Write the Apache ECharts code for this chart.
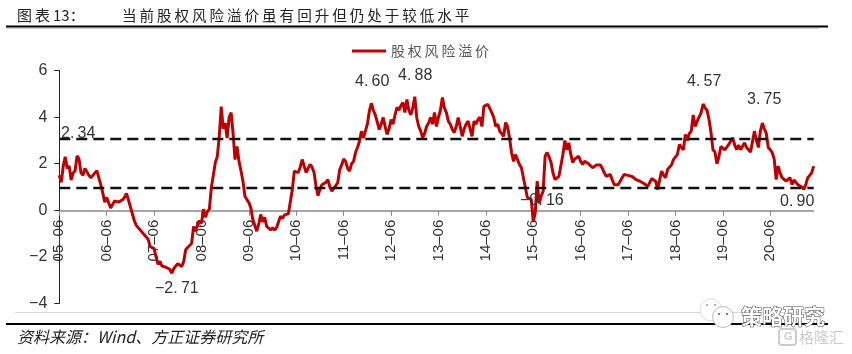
<!DOCTYPE html>
<html>
<head>
<meta charset="utf-8">
<title>股权风险溢价</title>
<script src="https://cdn.jsdelivr.net/npm/echarts@6/dist/echarts.min.js"></script>
<style>
  html, body { margin: 0; padding: 0; background: #fff; }
  #main { width: 852px; height: 354px; }
</style>
</head>
<body>
<div id="main"></div>
<script>
// 半月度数据，自 05-06 起，每行一年
var premium = [
  1.5,1.2,1.9,2.3,1.8,1.9,1.3,1.6,1.7,2.34,2.2,1.6,1.5,1.8,1.75,1.5,1.4,1.5,1.55,1.7,1.4,1.1,0.75,0.35,
  0.55,0.5,0.1,0.03,0.4,0.42,0.35,0.33,0.45,0.55,0.72,0.45,0.15,-0.15,-0.45,-0.65,-0.75,-0.7,-0.95,-1.05,-1.1,-1.25,-1.56,-1.6,
  -1.65,-2.0,-2.33,-2.2,-2.4,-2.33,-2.45,-2.5,-2.55,-2.71,-2.5,-2.4,-2.3,-2.25,-2.42,-2.2,-1.7,-1.6,-1.65,-1.43,-0.7,-0.9,-0.63,-0.45,
  -0.56,0.05,-0.3,-0.05,0.05,0.98,1.5,2.05,2.3,3.17,4.46,3.5,3.75,3.1,4.0,4.2,3.3,2.18,2.74,2.1,1.7,1.25,0.6,0.46,
  0.33,0.1,-0.4,-0.4,-0.9,-0.6,-0.18,-0.5,-0.3,-0.69,-0.7,-0.85,-0.75,-0.85,-0.75,-0.8,-0.26,-0.35,-0.2,-0.2,-0.15,-0.1,0.89,1.68,
  1.7,1.62,1.85,2.18,1.9,1.62,1.8,1.97,1.85,1.62,1.03,0.63,0.9,1.1,1.15,1.2,1.32,1.0,0.82,0.95,1.05,1.19,1.75,1.95,
  2.2,2.1,1.8,1.68,2.0,2.1,2.48,2.7,2.97,3.4,3.1,3.04,3.7,4.26,4.6,4.3,4.1,3.8,3.47,3.7,3.99,3.6,3.26,3.5,
  3.9,3.7,4.1,4.42,4.3,4.5,4.63,4.2,4.76,4.3,4.1,4.4,4.88,3.99,3.6,3.4,3.12,3.3,3.6,3.75,3.99,3.7,4.2,3.6,
  4.0,4.3,4.85,4.4,4.2,3.83,3.7,3.47,3.34,3.6,3.99,3.6,3.18,3.5,3.7,3.83,3.5,3.18,3.83,3.7,3.9,4.0,3.6,4.47,
  4.5,4.55,4.5,4.2,3.99,3.6,3.7,3.4,3.3,3.18,3.77,3.6,3.1,2.48,2.1,2.4,2.4,1.97,1.83,1.4,0.98,0.55,0.6,0.46,
  -0.5,-0.1,1.25,0.3,0.6,0.82,2.32,2.48,2.3,2.05,1.6,1.32,1.3,1.46,1.5,2.4,3.0,2.6,2.9,2.4,2.05,2.2,2.15,2.32,
  2.1,1.97,2.1,2.05,2.0,2.05,1.83,1.9,1.95,1.97,1.95,1.8,1.6,1.46,1.5,1.54,1.3,1.1,1.12,1.1,1.25,1.4,1.54,1.55,
  1.5,1.54,1.45,1.4,1.32,1.3,1.25,1.2,1.15,1.1,1.03,1.2,1.36,1.3,1.25,0.89,1.3,1.68,1.5,1.4,1.75,1.7,1.95,2.18,
  2.1,2.4,2.83,2.7,2.6,3.26,3.0,3.3,3.4,4.1,3.6,3.83,3.9,4.2,4.57,4.4,4.3,3.9,3.34,2.6,2.5,2.0,2.3,2.74,
  2.7,2.6,2.54,2.83,2.8,3.12,2.8,2.6,2.8,2.6,2.65,2.9,2.7,2.6,2.5,2.48,3.4,3.0,2.7,3.4,3.75,3.5,3.3,2.7,
  2.6,2.48,2.2,1.32,1.9,1.6,1.4,1.45,1.25,1.3,1.4,1.1,1.3,1.25,1.1,1.05,1.0,0.9,1.1,1.4,1.5,1.62,1.9
];
var upperLine = 3.08;
var lowerLine = 0.98;
var yTicks = [-4, -2, 0, 2, 4, 6];

// x轴类目：每月两个点
var categories = [];
for (var i = 0; i < premium.length; i++) {
  var m = 5 + Math.floor(i / 2);
  var yy = 5 + Math.floor(m / 12);
  var mm = m % 12 + 1;
  categories.push((yy < 10 ? '0' : '') + yy + '–' + (mm < 10 ? '0' : '') + mm);
}

var cjk = '"Noto Sans CJK SC"';
var latin = '"Liberation Sans", Arial';

// 字距
function spaced(s) {
  return s.split('').join('\u2009');
}

function note(text, x, y) {
  return {
    type: 'text', x: x, y: y, z: 20,
    style: {
      text: text.replace('.', '.\u2009').replace('-', '−'),
      font: '16px ' + latin, fill: '#333',
      textAlign: 'left', textVerticalAlign: 'middle'
    }
  };
}

function rule(x1, x2, y, color, width) {
  return {
    type: 'line', z: 1,
    shape: { x1: x1, y1: y, x2: x2, y2: y },
    style: { stroke: color, lineWidth: width }
  };
}

var myChart = echarts.init(document.getElementById('main'), null, { renderer: 'canvas' });

var option = {
  animation: false,
  backgroundColor: '#fff',
  grid: { left: 59.3, right: 38.3, top: 70.7, height: 232.6, containLabel: false, outerBoundsMode: 'none' },
  legend: {
    left: 347, top: 39,
    icon: 'rect',
    itemWidth: 34, itemHeight: 3, itemGap: 1,
    data: ['股权风险溢价'],
    formatter: function (n) { return spaced(n); },
    textStyle: { fontFamily: cjk, fontSize: 14, color: '#555' }
  },
  xAxis: {
    type: 'category',
    boundaryGap: false,
    data: categories,
    // 轴线画在0值处，标签跟随
    offset: -92.6,
    axisLine: { onZero: false, lineStyle: { color: '#888', width: 1.5 } },
    axisTick: { alignWithLabel: true, interval: 23, length: 5, lineStyle: { color: '#888' } },
    axisLabel: {
      interval: 23, rotate: 90, margin: 9,
      fontFamily: latin, fontSize: 15, color: '#333'
    }
  },
  yAxis: {
    type: 'value',
    min: yTicks[0], max: yTicks[yTicks.length - 1], interval: 2,
    splitLine: { show: false },
    axisLine: { show: true, onZero: false, lineStyle: { color: '#222', width: 1 } },
    axisTick: { show: true, length: 5, lineStyle: { color: '#222' } },
    axisLabel: {
      margin: 12, padding: [3, 0, 0, 0], fontFamily: latin, fontSize: 16, color: '#333',
      formatter: function (v) { return String(v).replace('-', '−'); }
    }
  },
  series: [{
    name: '股权风险溢价',
    type: 'line',
    data: premium,
    showSymbol: false,
    symbol: 'none',
    sampling: false,
    lineStyle: { color: '#c00000', width: 3 },
    itemStyle: { color: '#c00000' },
    markLine: {
      silent: true,
      symbol: 'none',
      label: { show: false },
      lineStyle: { color: '#111', width: 2.4, type: [11, 6] },
      data: [{ yAxis: upperLine }, { yAxis: lowerLine }]
    }
  }],
  graphic: [
    // 标题与版式线
    {
      type: 'text', x: 17, y: 15,
      style: { text: '图\u2009表\u200913：', font: '15px ' + cjk, fill: '#222', textVerticalAlign: 'middle' }
    },
    {
      type: 'text', x: 122, y: 15,
      style: { text: spaced('当前股权风险溢价虽有回升但仍处于较低水平'), font: '14.6px ' + cjk, fill: '#222', textVerticalAlign: 'middle' }
    },
    rule(6, 828, 26.5, '#000', 2),
    rule(6, 819, 28.5, '#ccc', 1),
    rule(15, 819, 312.5, '#d8d8d8', 1),
    rule(6, 828, 324, '#000', 2),
    {
      type: 'text', x: 17, y: 337,
      style: { text: '资料来源：Wind、方正证券研究所', font: 'italic 16px ' + cjk, fill: '#222', textVerticalAlign: 'middle' }
    },
    // 数据标注
    note('2.34', 61, 134),
    note('4.60', 355, 82),
    note('4.88', 398, 76),
    note('4.57', 687, 82),
    note('3.75', 747, 100),
    note('-2.71', 155, 289),
    note('-0.16', 520, 201),
    note('0.90', 780, 202),
    // 水印
    { type: 'circle', z: 21, shape: { cx: 711, cy: 310, r: 11 }, style: { fill: '#fff', stroke: '#ddd', lineWidth: 1 } },
    { type: 'circle', z: 22, shape: { cx: 723, cy: 317, r: 10.5 }, style: { fill: '#fff', stroke: '#bbb', lineWidth: 1 } },
    { type: 'circle', z: 23, shape: { cx: 719, cy: 314, r: 1 }, style: { fill: '#555' } },
    { type: 'circle', z: 23, shape: { cx: 727, cy: 314, r: 1 }, style: { fill: '#555' } },
    { type: 'circle', z: 23, shape: { cx: 707, cy: 305, r: 1 }, style: { fill: '#999' } },
    { type: 'circle', z: 23, shape: { cx: 715, cy: 305, r: 1 }, style: { fill: '#999' } },
    {
      type: 'text', x: 741, y: 316, z: 24,
      style: { text: '策略研究', font: 'bold 21px ' + cjk, fill: '#fff', stroke: '#444', lineWidth: 1, textVerticalAlign: 'middle' }
    },
    { type: 'rect', z: 24, shape: { x: 779, y: 329, width: 17, height: 16, r: 3 }, style: { fill: 'none', stroke: '#ccc', lineWidth: 2 } },
    {
      type: 'text', x: 784, y: 337, z: 24,
      style: { text: 'G', font: 'bold 11px ' + latin, fill: '#ccc', textVerticalAlign: 'middle' }
    },
    {
      type: 'text', x: 799, y: 337, z: 24,
      style: { text: '格隆汇', font: '15px ' + cjk, fill: '#ccc', textVerticalAlign: 'middle' }
    }
  ]
};

myChart.setOption(option);
</script>
</body>
</html>
